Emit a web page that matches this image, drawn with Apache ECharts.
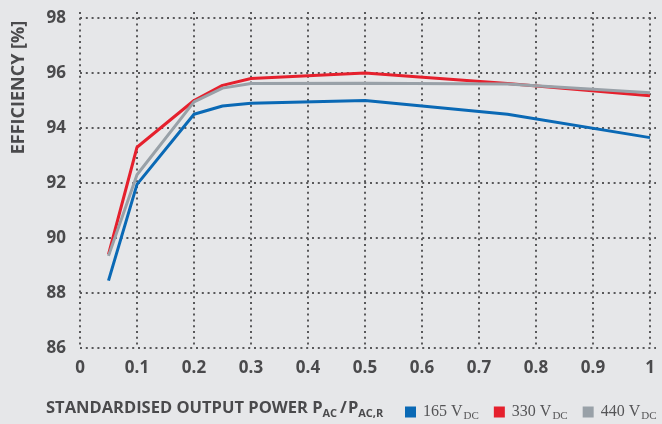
<!DOCTYPE html>
<html>
<head>
<meta charset="utf-8">
<script src="https://cdn.jsdelivr.net/npm/echarts@6/dist/echarts.min.js"></script>
<style>
  html, body { margin: 0; padding: 0; background: #e6e7e9; }
  #chart { width: 662px; height: 424px; }
</style>
</head>
<body>
<div id="chart"></div>
<script>
// Standardised output power P_AC / P_AC,R
const powerRatio = [0.05, 0.1, 0.2, 0.25, 0.3, 0.5, 0.75, 1];

// Efficiency [%] per DC input voltage
const eff165 = [88.45, 91.95, 94.5, 94.8, 94.9, 95.0, 94.5, 93.65];
const eff330 = [89.4, 93.3, 95.0, 95.55, 95.8, 96.0, 95.62, 95.17];
const eff440 = [89.35, 92.3, 94.95, 95.45, 95.62, 95.63, 95.6, 95.28];

const seriesNames = ['165 V', '330 V', '440 V'];
const seriesColors = ['#0a69b5', '#e5202d', '#99a1a8'];

const textColor = '#4a4a4c';
const tickFont = '"Open Sans", sans-serif';

function pairs(xs, ys) {
  return xs.map((x, i) => [x, ys[i]]);
}

function dotted() {
  return { color: '#58585a', width: 2, type: [2, 3.8] };
}

const chart = echarts.init(document.getElementById('chart'), null, { renderer: 'canvas' });

chart.setOption({
  backgroundColor: '#e6e7e9',
  animation: false,
  grid: { left: 80, right: 6, top: 12, bottom: 76, containLabel: false },
  xAxis: {
    type: 'value',
    min: 0,
    max: 1.0105,
    interval: 0.1,
    axisLine: { show: false },
    axisTick: { show: true, length: 0, lineStyle: { opacity: 0 } },
    splitLine: { show: true, showMaxLine: false, lineStyle: dotted() },
    axisLabel: {
      showMaxLabel: false,
      margin: 12,
      color: textColor,
      fontFamily: tickFont,
      fontWeight: 'bold',
      fontSize: 17,
      formatter: v => String(+v.toFixed(2))
    }
  },
  yAxis: {
    type: 'value',
    min: 86,
    max: 98.218,
    interval: 2,
    axisLine: { show: false },
    axisTick: { show: true, length: 0, lineStyle: { opacity: 0 } },
    splitLine: { show: true, showMaxLine: false, lineStyle: dotted() },
    axisLabel: {
      showMaxLabel: false,
      margin: 14,
      color: textColor,
      fontFamily: tickFont,
      fontWeight: 'bold',
      fontSize: 17,
      formatter: v => String(Math.round(v))
    }
  },
  legend: {
    left: 405,
    top: 404,
    padding: 0,
    itemGap: 15,
    itemWidth: 11,
    itemHeight: 11,
    icon: 'rect',
    data: seriesNames,
    formatter: name => '{n|' + name + '}{s|DC}',
    textStyle: {
      color: '#555557',
      rich: {
        n: { fontFamily: '"Liberation Serif", serif', fontSize: 16, lineHeight: 20, color: '#555557', padding: [0, 0, 0, 2] },
        s: { fontFamily: '"Liberation Serif", serif', fontSize: 11, lineHeight: 11, verticalAlign: 'bottom', color: '#555557', padding: [0, 0, 0, 1] }
      }
    }
  },
  graphic: [
    {
      type: 'text',
      x: 19,
      y: 87.5,
      rotation: Math.PI / 2,
      style: {
        text: 'EFFICIENCY [%]',
        font: 'bold 18px "Open Sans", sans-serif',
        fill: textColor,
        textAlign: 'center',
        textVerticalAlign: 'middle',
        align: 'center',
        verticalAlign: 'middle'
      }
    },
    {
      type: 'text',
      left: 46,
      top: 400,
      style: {
        text: '{a|STANDARDISED OUTPUT POWER P}{b|AC}{c|/}{a|P}{b|AC,R}',
        fill: textColor,
        rich: {
          a: { font: 'bold 16.5px "Open Sans", sans-serif', fill: textColor, lineHeight: 22 },
          c: { font: 'bold 16.5px "Open Sans", sans-serif', fill: textColor, lineHeight: 22, padding: [0, 1, 0, 3] },
          b: { font: 'bold 11px "Open Sans", sans-serif', fill: textColor, lineHeight: 12, verticalAlign: 'bottom' }
        }
      }
    }
  ],
  series: [
    { name: seriesNames[0], type: 'line', data: pairs(powerRatio, eff165) },
    { name: seriesNames[1], type: 'line', data: pairs(powerRatio, eff330) },
    { name: seriesNames[2], type: 'line', data: pairs(powerRatio, eff440) }
  ].map((s, i) => Object.assign(s, {
    showSymbol: false,
    symbol: 'none',
    color: seriesColors[i],
    lineStyle: { width: 3, color: seriesColors[i] },
    itemStyle: { color: seriesColors[i] },
    z: 2 + i
  }))
});
</script>
</body>
</html>
